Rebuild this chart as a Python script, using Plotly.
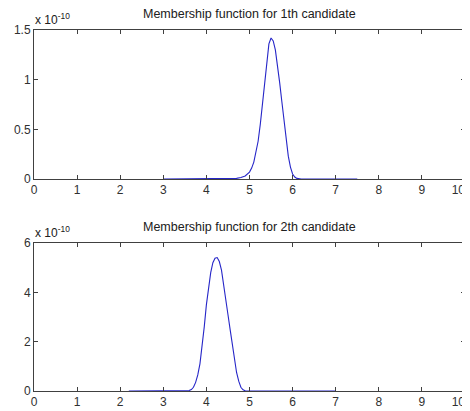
import plotly.graph_objects as go

# Candidate 1 (values in units of 1e-10)
x1 = [3.0, 3.5, 4.0, 4.5, 4.6, 4.7, 4.8, 4.9, 5.0, 5.05, 5.1, 5.15, 5.2, 5.25, 5.3, 5.35, 5.4, 5.45, 5.5,
      5.55, 5.6, 5.65, 5.7, 5.75, 5.8, 5.85, 5.9, 5.95, 6.0, 6.05, 6.1, 6.2, 6.5, 7.0, 7.5]
y1 = [0.0, 0.0, 0.0, 0.0, 0.002, 0.006, 0.015, 0.03, 0.07, 0.11, 0.17, 0.26, 0.38, 0.55, 0.76, 0.98, 1.2,
      1.36, 1.42, 1.39, 1.3, 1.15, 0.97, 0.78, 0.58, 0.39, 0.23, 0.12, 0.05, 0.02, 0.006, 0.0,
      0.0, 0.0, 0.0]

# Candidate 2 (values in units of 1e-10)
x2 = [2.2, 2.5, 3.0, 3.5, 3.55, 3.6, 3.65, 3.7, 3.75, 3.8, 3.85, 3.9, 3.95, 4.0, 4.05, 4.1,
      4.15, 4.2, 4.25, 4.3, 4.35, 4.4, 4.45, 4.5, 4.55, 4.6, 4.65, 4.7, 4.75, 4.8, 4.85, 4.9,
      5.0, 5.5, 6.0, 6.5, 7.0]
y2 = [0.0, 0.0, 0.0, 0.0, 0.0, 0.02, 0.06, 0.15, 0.35, 0.65, 1.1, 1.75, 2.6, 3.5, 4.2, 4.8,
      5.2, 5.38, 5.41, 5.25, 4.9, 4.35, 3.75, 3.1, 2.5, 1.9, 1.3, 0.75, 0.4, 0.15, 0.05, 0.01,
      0.0, 0.0, 0.0, 0.0, 0.0]

titles = ["Membership function for 1th candidate", "Membership function for 2th candidate"]
x_ticks = [0, 1, 2, 3, 4, 5, 6, 7, 8, 9, 10]
x_ticktext = ["0", "1", "2", "3", "4", "5", "6", "7", "8", "9", "10&nbsp;&nbsp;&nbsp;&nbsp;"]
y1_ticks = [0, 0.5, 1, 1.5]
y1_ticktext = ["0", "0.5", "1", "1.5"]
y2_ticks = [0, 2, 4, 6]

# The page body has an 8px default margin, so the figure is offset by 8px.
OFF = 8
W, H = 470 - OFF, 411 - OFF


def fy(y_ref):
    """Reference pixel row -> paper coordinate in the figure."""
    return 1 - (y_ref - OFF) / H


line_style = dict(color="#2626c8", width=1.1)
fig = go.Figure()
fig.add_trace(go.Scatter(x=x1, y=y1, mode="lines", line=line_style,
                         xaxis="x", yaxis="y", showlegend=False, hoverinfo="skip"))
fig.add_trace(go.Scatter(x=x2, y=y2, mode="lines", line=line_style,
                         xaxis="x2", yaxis="y2", showlegend=False, hoverinfo="skip"))

tick_font = dict(family="Liberation Sans, Arial", size=12, color="#303030")
axis_common = dict(showline=True, linecolor="#404040", linewidth=1, mirror="ticks",
                   ticks="inside", ticklen=4, tickcolor="#404040", showgrid=False,
                   zeroline=False, tickfont=tick_font, automargin=False,
                   ticklabeloverflow="allow")

fig.update_layout(
    width=W, height=H,
    margin=dict(l=34 - OFF, r=5, t=0, b=0, autoexpand=False),
    paper_bgcolor="white", plot_bgcolor="white",
    xaxis=dict(domain=[0, 1], range=[0, 10], tickvals=x_ticks, ticktext=x_ticktext,
               anchor="y", **axis_common),
    yaxis=dict(domain=[fy(179), fy(30)], range=[0, 1.5], tickvals=y1_ticks,
               ticktext=y1_ticktext, anchor="x", **axis_common),
    xaxis2=dict(domain=[0, 1], range=[0, 10], tickvals=x_ticks, ticktext=x_ticktext,
                anchor="y2", **axis_common),
    yaxis2=dict(domain=[fy(391), fy(243)], range=[0, 6], tickvals=y2_ticks,
                anchor="x2", **axis_common),
)

font_t = dict(family="Liberation Sans, Arial", size=12.5, color="#202020")
for t, ytop in [(titles[0], 30), (titles[1], 243)]:
    fig.add_annotation(text=t, xref="paper", yref="paper", x=0.5, y=fy(ytop - 7),
                       xanchor="center", yanchor="bottom", showarrow=False, font=font_t)
    fig.add_annotation(text="x 10<sup>-10</sup>", xref="paper", yref="paper", x=-0.002,
                       y=fy(ytop - 1), xanchor="left", yanchor="bottom",
                       showarrow=False, font=dict(family="Liberation Sans, Arial", size=12, color="#202020"))

fig.write_html("out.html")
